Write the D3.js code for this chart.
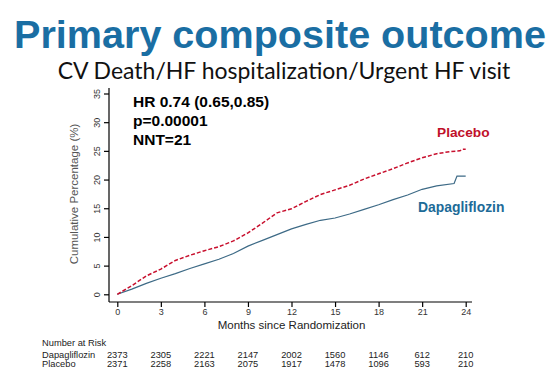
<!DOCTYPE html>
<html lang="en">
<head>
  <meta charset="UTF-8">
  <title>Primary composite outcome</title>
  <style>
    body { margin: 0; background: #fff; }
    svg { display: block; font-family: "Liberation Sans", Arial, sans-serif; }
    .axis path, .axis line { stroke: #000; stroke-width: 1.2px; }
    .axis text { fill: #333; font-size: 9px; }
  </style>
</head>
<body>
  <div id="chart"></div>
  <script src="https://d3js.org/d3.v7.min.js"></script>
  <script>
    // KM curves (months, cumulative %)
    const placeboMonths = [0, 1, 2, 3, 4, 5, 6, 7, 8, 9, 10, 11, 12, 13, 14, 15, 16, 17, 18, 19, 20, 21, 22, 23, 23.6, 23.8, 24];
    const placeboPct    = [0, 1.5, 3.2, 4.4, 5.9, 6.8, 7.6, 8.3, 9.3, 10.7, 12.4, 14.2, 14.9, 16.2, 17.4, 18.2, 19.0, 20.1, 21.0, 21.9, 22.9, 23.8, 24.5, 24.9, 25.0, 25.3, 25.3];
    const dapaMonths    = [0, 1, 2, 3, 4, 5, 6, 7, 8, 9, 10, 11, 12, 13, 14, 15, 16, 17, 18, 19, 20, 21, 22, 23.2, 23.4, 24];
    const dapaPct       = [0, 0.9, 1.9, 2.8, 3.6, 4.5, 5.3, 6.1, 7.1, 8.4, 9.4, 10.4, 11.4, 12.2, 12.9, 13.3, 14.0, 14.8, 15.6, 16.5, 17.3, 18.3, 18.9, 19.3, 20.6, 20.6];

    const xTicks = [0, 3, 6, 9, 12, 15, 18, 21, 24];
    const yTicks = [0, 5, 10, 15, 20, 25, 30, 35];
    const riskDapa    = [2373, 2305, 2221, 2147, 2002, 1560, 1146, 612, 210];
    const riskPlacebo = [2371, 2258, 2163, 2075, 1917, 1478, 1096, 593, 210];
    const statLines = ["HR 0.74 (0.65,0.85)", "p=0.00001", "NNT=21"];

    const width = 554, height = 386;
    const svg = d3.select("#chart").append("svg")
      .attr("width", width)
      .attr("height", height);

    // scale a text's font so it spans the wanted width
    function fitWidth(sel, size, target) {
      const w = sel.node().getComputedTextLength();
      sel.attr("font-size", size * target / w);
    }

    // titles
    const title = svg.append("text")
      .attr("x", 280).attr("y", 48)
      .attr("text-anchor", "middle")
      .attr("font-weight", "bold")
      .attr("font-size", 37)
      .attr("fill", "#1a6ea3")
      .text("Primary composite outcome");
    fitWidth(title, 37, 532);

    const sub = svg.append("text")
      .attr("x", 284).attr("y", 79)
      .attr("text-anchor", "middle")
      .attr("font-family", "Lato, 'Open Sans', sans-serif")
      .attr("font-size", 20)
      .attr("fill", "#111")
      .text("CV Death/HF hospitalization/Urgent HF visit");
    fitWidth(sub, 20, 453);

    const x = d3.scaleLinear().domain([0, 24]).range([117.3, 465.7]);
    const y = d3.scaleLinear().domain([0, 35]).range([294.3, 93.5]);

    // axes
    const xAxis = svg.append("g")
      .attr("class", "axis")
      .attr("transform", "translate(0,302)")
      .call(d3.axisBottom(x).tickValues(xTicks).tickSize(5).tickPadding(2).tickSizeOuter(0));
    xAxis.select(".domain").attr("d", "M109,0H472");

    const yAxis = svg.append("g")
      .attr("class", "axis")
      .attr("transform", "translate(109,0)")
      .call(d3.axisLeft(y).tickValues(yTicks).tickSize(5).tickSizeOuter(0));
    yAxis.select(".domain").attr("d", "M0,88V302");
    yAxis.selectAll(".tick text")
      .attr("x", null).attr("dy", null)
      .attr("text-anchor", "middle")
      .attr("transform", "translate(-9,0) rotate(-90)")
      .attr("fill", "#666")
      .attr("font-size", 8.5);

    svg.append("text")
      .attr("transform", "translate(78,194) rotate(-90)")
      .attr("text-anchor", "middle")
      .attr("font-size", 11.5)
      .attr("fill", "#555")
      .text("Cumulative Percentage (%)");

    svg.append("text")
      .attr("x", x(12)).attr("y", 329)
      .attr("text-anchor", "middle")
      .attr("font-size", 11.5)
      .attr("fill", "#222")
      .text("Months since Randomization");

    // curves
    const line = d3.line()
      .x(d => x(d[0]))
      .y(d => y(d[1]));

    svg.append("path")
      .datum(dapaMonths.map((m, i) => [m, dapaPct[i]]))
      .attr("d", line)
      .attr("fill", "none")
      .attr("stroke", "#3d6a86")
      .attr("stroke-width", 1.2);

    svg.append("path")
      .datum(placeboMonths.map((m, i) => [m, placeboPct[i]]))
      .attr("d", line)
      .attr("fill", "none")
      .attr("stroke", "#c8102e")
      .attr("stroke-width", 1.5)
      .attr("stroke-dasharray", "4,2");

    // curve labels
    svg.append("text")
      .attr("x", 437).attr("y", 137)
      .attr("font-weight", "bold").attr("font-size", 13.7)
      .attr("fill", "#c0102a")
      .text("Placebo");
    svg.append("text")
      .attr("x", 418).attr("y", 212)
      .attr("font-weight", "bold").attr("font-size", 13.9)
      .attr("fill", "#1d6b98")
      .text("Dapagliflozin");

    // stats
    svg.append("g").selectAll("text")
      .data(statLines)
      .join("text")
      .attr("x", 133)
      .attr("y", (d, i) => 107 + i * 19)
      .attr("font-weight", "bold")
      .attr("font-size", 15.5)
      .attr("fill", "#000")
      .text(d => d);

    // number at risk
    const risk = svg.append("g").attr("font-size", 9.3).attr("fill", "#222");
    risk.append("text").attr("x", 42).attr("y", 346).text("Number at Risk");
    risk.append("text").attr("x", 42).attr("y", 357.5).text("Dapagliflozin");
    risk.append("text").attr("x", 42).attr("y", 367).text("Placebo");
    risk.selectAll(".rd")
      .data(riskDapa)
      .join("text")
      .attr("class", "rd")
      .attr("x", (d, i) => x(xTicks[i]))
      .attr("y", 357.5)
      .attr("text-anchor", "middle")
      .text(d => d);
    risk.selectAll(".rp")
      .data(riskPlacebo)
      .join("text")
      .attr("class", "rp")
      .attr("x", (d, i) => x(xTicks[i]))
      .attr("y", 367)
      .attr("text-anchor", "middle")
      .text(d => d);
  </script>
</body>
</html>
